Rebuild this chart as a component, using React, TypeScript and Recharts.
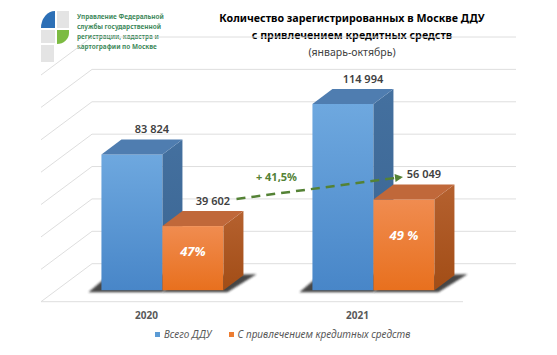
import React from 'react';
import { BarChart, Bar, XAxis, YAxis, CartesianGrid, Legend, LabelList, ReferenceLine } from 'recharts';

const years = ['2020', '2021'];
const totalDdu = [83824, 114994];
const creditDdu = [39602, 56049];
const creditShare = ['47%', '49 %'];
const growthText = '+ 41,5%';
const gridTicks = [0, 20000, 40000, 60000, 80000, 100000, 120000];
const seriesNames = { total: 'Всего ДДУ', credit: 'С привлечением кредитных средств' };
const titleLines = ['Количество зарегистрированных в Москве ДДУ', 'с привлечением кредитных средств'];
const subtitle = '(январь-октябрь)';
const logoLines = ['Управление Федеральной', 'службы государственной', 'регистрации, кадастра и', 'картографии по Москве'];

const data = years.map((year, i) => ({
  year,
  total: totalDdu[i],
  credit: creditDdu[i],
  share: creditShare[i],
}));

// fake 3d: depth of the floor / side wall and of the boxes
const ROOM_DX = 51;
const ROOM_DY = 38;
const BOX_DX = 20;
const BOX_DY = 15;
// boxes stand in the middle of the floor depth
const MID_DX = (ROOM_DX - BOX_DX) / 2;
const MID_DY = (ROOM_DY - BOX_DY) / 2;

const FONT = '"Noto Sans", "Open Sans", sans-serif';
const GREEN = '#548235';

const fmt = (v: number) => String(v).replace(/\B(?=(\d{3})+(?!\d))/g, ' ');

const palettes: Record<string, { front: string; side: string; top: string }> = {
  total: { front: 'url(#blueFront)', side: 'url(#blueSide)', top: '#4f7db0' },
  credit: { front: 'url(#orangeFront)', side: 'url(#orangeSide)', top: '#c0683a' },
};

const makeBox = (key: string) => (props: any) => {
  const { x, y, width, height } = props;
  const p = palettes[key];
  const fx = x + MID_DX;
  const fy = y - MID_DY;
  const w = width;
  const base = fy + height;
  // shadow only sticks out on the outer side of the pair
  const left = key === 'total' ? 13 : 0;
  const right = key === 'credit' ? 13 : 0;
  return (
    <g>
      <polygon
        points={`${fx - left},${base + 2} ${fx + w + right * 0.3},${base + 2} ${fx + w + BOX_DX + right},${base - BOX_DY - 1} ${fx + BOX_DX - left},${base - BOX_DY}`}
        fill="#262626"
        opacity={0.85}
        filter="url(#boxShadow)"
      />
      <rect x={fx} y={fy} width={w} height={height} fill={p.front} />
      <polygon
        points={`${fx + w},${fy} ${fx + w + BOX_DX},${fy - BOX_DY} ${fx + w + BOX_DX},${base - BOX_DY} ${fx + w},${base}`}
        fill={p.side}
      />
      <polygon
        points={`${fx},${fy} ${fx + BOX_DX},${fy - BOX_DY} ${fx + w + BOX_DX},${fy - BOX_DY} ${fx + w},${fy}`}
        fill={p.top}
      />
    </g>
  );
};

const valueLabel = (props: any) => {
  const { x, y, width, value } = props;
  const cx = x + MID_DX + width / 2 + BOX_DX;
  const cy = y - MID_DY - BOX_DY - 10;
  return (
    <text x={cx} y={cy} dy="0.35em" textAnchor="middle" fontFamily={FONT} fontSize={11} fontWeight={600} fill="#404040">
      {fmt(value)}
    </text>
  );
};

const shareLabel = (props: any) => {
  const { x, y, width, height, value } = props;
  const cx = x + MID_DX + width / 2;
  const cy = y - MID_DY + height * 0.4;
  return (
    <text x={cx} y={cy} dy="0.35em" textAnchor="middle" fontFamily={FONT} fontSize={13} fontWeight={700} fontStyle="italic" fill="#ffffff">
      {value}
    </text>
  );
};

// horizontal grid: back wall line + diagonal on the left wall
const roomLine = (props: any) => {
  const { x1, x2, y1, index } = props;
  return (
    <g key={`room-${index}`}>
      <line x1={x1} y1={y1} x2={x1 + ROOM_DX} y2={y1 - ROOM_DY} stroke="#dedede" strokeWidth={1} />
      <line x1={x1 + ROOM_DX} y1={y1 - ROOM_DY} x2={x2 + ROOM_DX + 2} y2={y1 - ROOM_DY} stroke="#dedede" strokeWidth={1} />
      {index === 0 && <line x1={x1} y1={y1} x2={x2} y2={y1} stroke="#dedede" strokeWidth={1} />}
    </g>
  );
};

const growthArrow = (props: any) => {
  const { x1, y1, x2, y2 } = props;
  const sx = x1 + 90;
  const sy = y1 - 38.6;
  const ex = x2 + 45.5;
  const ey = y2 - 34;
  const ang = Math.atan2(ey - sy, ex - sx);
  const hl = 8;
  const hw = 4;
  const bx = ex - hl * Math.cos(ang);
  const by = ey - hl * Math.sin(ang);
  const nx = -Math.sin(ang);
  const ny = Math.cos(ang);
  const tx = sx + 0.24 * (ex - sx);
  const ty = sy + 0.24 * (ey - sy) - 17;
  return (
    <g>
      <line x1={sx} y1={sy} x2={bx} y2={by} stroke={GREEN} strokeWidth={2.5} strokeDasharray="9 6" />
      <polygon points={`${ex},${ey} ${bx + nx * hw},${by + ny * hw} ${bx - nx * hw},${by - ny * hw}`} fill={GREEN} />
      <text x={tx} y={ty} dy="0.35em" textAnchor="middle" fontFamily={FONT} fontSize={11} fontWeight={700} fill={GREEN}>
        {growthText}
      </text>
    </g>
  );
};

const legendContent = () => (
  <div style={{ display: 'flex', fontFamily: FONT, fontSize: 10, fontStyle: 'italic', color: '#595959', whiteSpace: 'nowrap' }}>
    <span style={{ display: 'flex', alignItems: 'center' }}>
      <span style={{ width: 5, height: 5, background: '#5b9bd5', marginRight: 4 }} />
      {seriesNames.total}
    </span>
    <span style={{ display: 'flex', alignItems: 'center', marginLeft: 17 }}>
      <span style={{ width: 5, height: 5, background: '#ed7d31', marginRight: 4 }} />
      {seriesNames.credit}
    </span>
  </div>
);

const Logo = () => (
  <g>
    <path d="M41,28 A14,17 0 0 1 55,11 L55,28 Z" fill="#2c6fb6" />
    <rect x={57} y={11} width={12} height={17} fill="#e4e4e4" />
    <rect x={41} y={30} width={14} height={13} fill="#e4e4e4" />
    <path d="M57,30 L69,30 L69,33 A12,11 0 0 1 57,44 Z" fill="#7cbb42" />
    <rect x={41} y={45} width={13} height={17} fill="#e4e4e4" />
    {logoLines.map((t, i) => (
      <text key={t} x={77} y={19 + i * 10} fontFamily={FONT} fontSize={6.4} fontWeight={700} fill="#3f8a5c">
        {t}
      </text>
    ))}
  </g>
);

export default function App() {
  return (
    <div style={{ position: 'absolute', left: 0, top: 0, width: 557, height: 355, background: '#ffffff' }}>
      <svg width={557} height={355} style={{ position: 'absolute', left: 0, top: 0 }}>
        <defs>
          <linearGradient id="blueFront" x1="0" y1="0" x2="0" y2="1">
            <stop offset="0%" stopColor="#6ea8df" />
            <stop offset="100%" stopColor="#4886c8" />
          </linearGradient>
          <linearGradient id="blueSide" x1="0" y1="0" x2="0" y2="1">
            <stop offset="0%" stopColor="#44709f" />
            <stop offset="100%" stopColor="#3a6592" />
          </linearGradient>
          <linearGradient id="orangeFront" x1="0" y1="0" x2="0" y2="1">
            <stop offset="0%" stopColor="#f08c50" />
            <stop offset="100%" stopColor="#e8701e" />
          </linearGradient>
          <linearGradient id="orangeSide" x1="0" y1="0" x2="0" y2="1">
            <stop offset="0%" stopColor="#b5612f" />
            <stop offset="100%" stopColor="#a24d16" />
          </linearGradient>
          <filter id="boxShadow" filterUnits="userSpaceOnUse" x="0" y="0" width="557" height="355">
            <feGaussianBlur stdDeviation="1.3" />
          </filter>
        </defs>
        <Logo />
        <text textAnchor="middle" fontFamily={FONT} fill="#000000">
          <tspan x={352} y={22} fontSize={10.7} fontWeight={700}>{titleLines[0]}</tspan>
          <tspan x={352} y={39} fontSize={10.7} fontWeight={700}>{titleLines[1]}</tspan>
          <tspan x={352} y={56} fontSize={10.5} fill="#404040">{subtitle}</tspan>
        </text>
      </svg>
      <div style={{ position: 'absolute', left: 0, top: 0 }}>
        <BarChart
          width={557}
          height={355}
          data={data}
          margin={{ top: 75, right: 94, bottom: 23.3, left: 41 }}
          barCategoryGap="21.3%"
          barGap={0}
        >
          <CartesianGrid vertical={false} horizontal={roomLine} stroke="#dedede" />
          <XAxis
            dataKey="year"
            height={30}
            axisLine={false}
            tickLine={false}
            tickMargin={4}
            tick={{ fontFamily: FONT, fontSize: 10, fontWeight: 700, fill: '#595959' }}
          />
          <YAxis hide domain={[0, 140000]} ticks={gridTicks} />
          <Legend
            verticalAlign="middle"
            layout="horizontal"
            content={legendContent}
            wrapperStyle={{ position: 'absolute', top: 327, left: 155, width: 'auto' }}
          />
          <Bar dataKey="total" name={seriesNames.total} fill="#5b9bd5" shape={makeBox('total')} isAnimationActive={false}>
            <LabelList dataKey="total" content={valueLabel} />
          </Bar>
          <Bar dataKey="credit" name={seriesNames.credit} fill="#ed7d31" shape={makeBox('credit')} isAnimationActive={false}>
            <LabelList dataKey="credit" content={valueLabel} />
            <LabelList dataKey="share" content={shareLabel} />
          </Bar>
          <ReferenceLine
            segment={[{ x: years[0], y: creditDdu[0] }, { x: years[1], y: creditDdu[1] }]}
            shape={growthArrow}
          />
        </BarChart>
      </div>
    </div>
  );
}
